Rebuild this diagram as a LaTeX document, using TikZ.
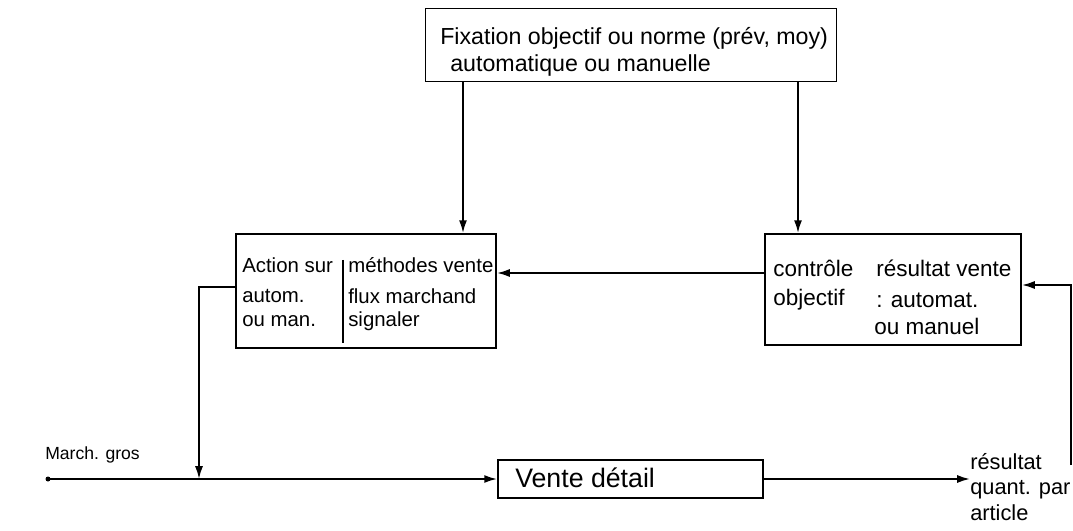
\documentclass[tikz,border=0pt]{standalone}
\usepackage{fontspec}
\setmainfont{Liberation Sans}
\usetikzlibrary{arrows.meta,positioning}
\tikzset{
  block/.style={draw, line width=1.3pt, inner sep=0pt},
  lbl/.style={font=\fontsize{14.5}{18}\selectfont, anchor=west, inner sep=0pt, align=left},
  arrow/.style={-{Latex[length=3.2mm,width=2mm]}, line width=1.3pt},
  wire/.style={line width=1.3pt},
}

\begin{document}
\begin{tikzpicture}[x=0.025cm, y=-0.025cm]
  \useasboundingbox (0,0) rectangle (1073,531);
  % boxes
  \node[block, minimum width=10.275cm, minimum height=1.825cm] (fix) at (631,45) {};
  \node[block, minimum width=6.5cm, minimum height=2.85cm] (act) at (366,291) {};
  \node[block, minimum width=6.4cm, minimum height=2.775cm] (ctl) at (893,289.5) {};
  \node[block, minimum width=6.625cm, minimum height=0.95cm] (vente) at (630.5,479) {};
  % texts
  \node[lbl, font=\fontsize{16.5}{18}\selectfont] (fixa) at (440,38) {Fixation objectif ou norme (prév, moy)};
  \node[lbl, font=\fontsize{16.5}{18}\selectfont] (fixb) at (450,66) {automatique ou manuelle};
  \node[lbl] (acta) at (242,265) {Action sur};
  \node[lbl] (actb) at (242,296) {autom.};
  \node[lbl] (actc) at (242,321) {ou man.};
  \node[lbl] (actd) at (348,265) {méthodes vente};
  \node[lbl] (acte) at (348,296) {flux marchand};
  \node[lbl] (actf) at (348,321) {signaler};
  \node[lbl, font=\fontsize{16}{18}\selectfont] (ctla) at (773,268) {contrôle};
  \node[lbl, font=\fontsize{16}{18}\selectfont] (ctlb) at (773,300) {objectif};
  \node[lbl, font=\fontsize{16}{18}\selectfont] (ctlc) at (876,268) {résultat vente};
  \node[lbl, font=\fontsize{16}{18}\selectfont] (ctld) at (876,300) {: automat.};
  \node[lbl, font=\fontsize{16}{18}\selectfont] (ctle) at (874,326) {ou manuel};
  \node[lbl, font=\fontsize{19}{20}\selectfont] (ventet) at (515,478) {Vente détail};
  \node[lbl, font=\fontsize{12.5}{16}\selectfont] (gros) at (45,455) {March. gros};
  \node[lbl, font=\fontsize{15.5}{18}\selectfont] (res) at (970,487) {résultat\\quant. par\\article};
  % divider in action box
  \coordinate (divtop) at (343,260);
  \coordinate (divbot) at (343,343);
  \draw[wire, line width=0.9pt] (divtop) -- (divbot);
  % connectors
  \coordinate (f1) at (463,0);
  \coordinate (f2) at (798,0);
  \coordinate (back) at (0,273);
  \coordinate (drop) at (199,287);
  \coordinate (src) at (48,479);
  \coordinate (fbk) at (1071,465);
  \coordinate (ctlin) at (0,285);
  \draw[arrow] (fix.south -| f1) -- (act.north -| f1);
  \draw[arrow] (fix.south -| f2) -- (ctl.north -| f2);
  \draw[arrow] (ctl.west |- back) -- (act.east |- back);
  \draw[arrow] (act.west |- drop) -- (drop) -- (drop |- src);
  \fill (src) circle (2.5);
  \draw[arrow] (src) -- (vente.west);
  \draw[arrow] (vente.east) -- (vente.east -| res.west);
  \draw[arrow] (fbk) |- (ctl.east |- ctlin);
\end{tikzpicture}
\end{document}
